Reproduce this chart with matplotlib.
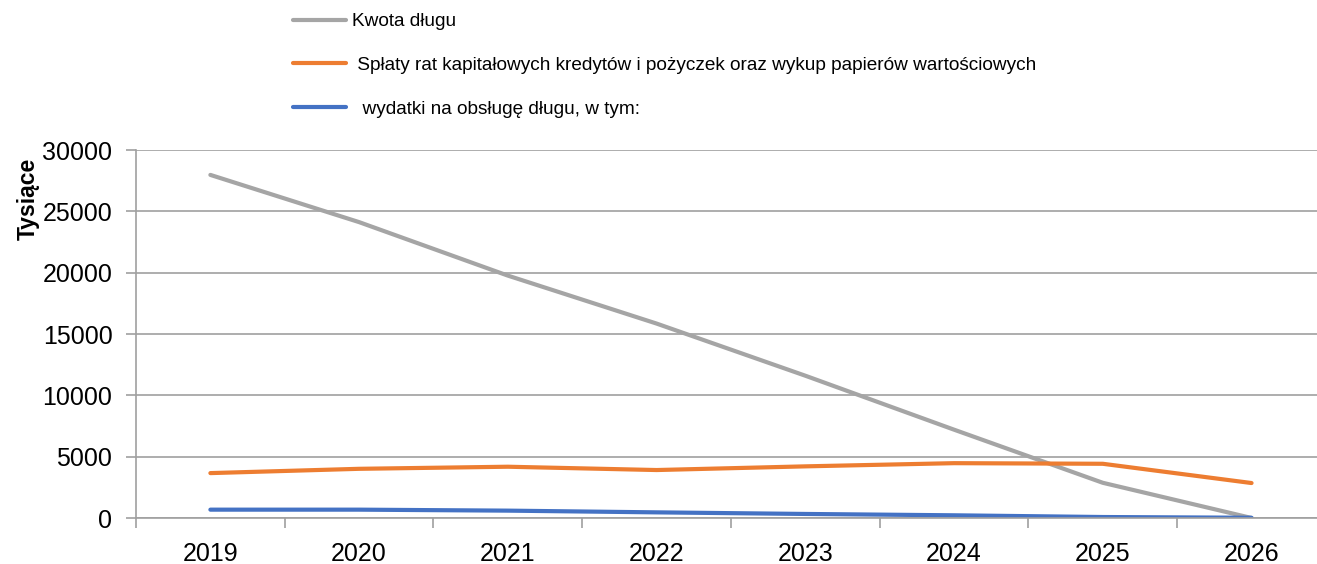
import matplotlib
matplotlib.use("Agg")
import matplotlib.pyplot as plt

lata = ['2019', '2020', '2021', '2022', '2023', '2024', '2025', '2026']
kwota_dlugu = [27970, 24120, 19760, 15850, 11600, 7200, 2870, 0]
splaty_rat = [3660, 4010, 4180, 3910, 4210, 4470, 4420, 2850]
wydatki_obsluga = [680, 680, 600, 460, 330, 220, 80, 20]

etykiety = ['Kwota długu',
            ' Spłaty rat kapitałowych kredytów i pożyczek oraz wykup papierów wartościowych',
            '  wydatki na obsługę długu, w tym:']
kolory = ['#A5A5A5', '#ED7D31', '#4472C4']

plt.rcParams['font.family'] = ['Liberation Sans', 'DejaVu Sans']

fig = plt.figure(figsize=(13.17, 5.64), dpi=100)
ax = fig.add_axes([136 / 1317, 1 - 518 / 564, 1 - 136 / 1317, 368 / 564])

x = list(range(len(lata)))
for serie, kolor, etykieta in zip([kwota_dlugu, splaty_rat, wydatki_obsluga], kolory, etykiety):
    ax.plot(x, serie, color=kolor, linewidth=3, label=etykieta, solid_capstyle='round')

ax.set_yticks(range(0, 30001, 5000))
ax.grid(axis='y', color='#A0A0A0', linewidth=1.2)
ax.set_axisbelow(True)

# ticks between categories, labels in the middle
ax.set_xticks([i - 0.5 for i in range(len(lata) + 1)])
ax.set_xticklabels([])
ax.set_xticks(x, minor=True)
ax.set_xticklabels(lata, minor=True, fontsize=18)
ax.tick_params(axis='x', which='minor', length=0, pad=17)
ax.tick_params(axis='x', which='major', length=7, color='#A0A0A0', width=1.2)
ax.tick_params(axis='y', labelsize=18, length=7, color='#A0A0A0', width=1.2, pad=10)

# limits after set_xticks, otherwise they get expanded
ax.set_ylim(0, 30000)
ax.set_xlim(-0.5, 7.44)

for s in ['top', 'right']:
    ax.spines[s].set_visible(False)
ax.spines['left'].set_color('#A0A0A0')
ax.spines['bottom'].set_color('#A0A0A0')
ax.spines['left'].set_linewidth(1.2)
ax.spines['bottom'].set_linewidth(1.2)

fig.text(28 / 1317, 1 - 199 / 564, 'Tysiące', rotation=90, fontsize=16.5, fontweight='bold',
         ha='center', va='center')

fig.legend(loc='upper left', bbox_to_anchor=(276 / 1317, 1 + 4 / 564), frameon=False,
           fontsize=13.7, handlelength=2.8, handletextpad=0.27, labelspacing=1.38)

plt.savefig('out.png', dpi=100)
